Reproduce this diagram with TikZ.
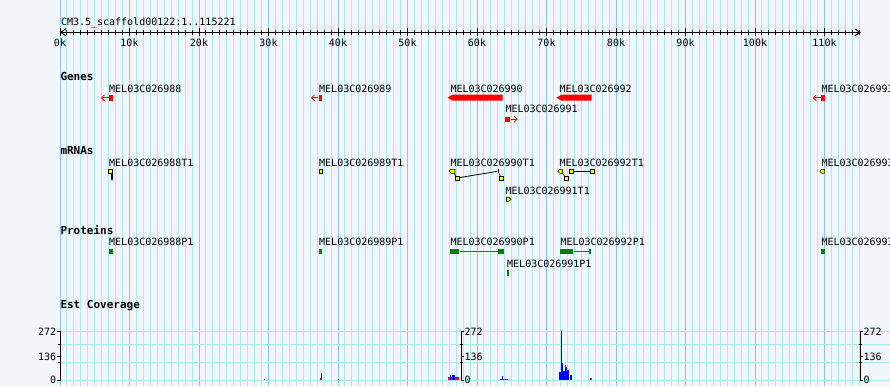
\documentclass[tikz,border=0pt]{standalone}
\usepackage{fontspec}
\setmonofont{DejaVu Sans Mono}
\usepackage[dvipsnames]{xcolor}
\usetikzlibrary{arrows.meta,shapes.symbols}
\definecolor{pagebg}{RGB}{242,245,250}
\definecolor{gridminor}{RGB}{172,234,240}
\definecolor{gridmajor}{RGB}{138,198,236}
\definecolor{genered}{RGB}{255,0,0}
\definecolor{exonyellow}{RGB}{255,255,0}
\definecolor{protgreen}{RGB}{0,128,0}
\definecolor{covblue}{RGB}{0,0,255}

\begin{document}
\begin{tikzpicture}[x=1pt,y=-1pt,line width=1pt,>={Straight Barb[length=3pt,width=6pt]},
    label node/.style={anchor=base west,inner sep=0pt,font=\ttfamily\fontsize{10}{12}\selectfont},
    track node/.style={anchor=base west,inner sep=0pt,font=\ttfamily\bfseries\fontsize{11}{13}\selectfont},
    axis num/.style={inner sep=0pt,font=\ttfamily\fontsize{10}{12}\selectfont},
    gene node/.style={rectangle,fill=genered,inner sep=0pt,minimum height=5.7pt},
    gene bar/.style={signal,signal to=west,signal pointer angle=62,fill=genered,inner sep=0pt,minimum height=6pt},
    gene arrow/.style={draw=genered,line width=0.8pt,->},
    exon node/.style={rectangle,fill=exonyellow,draw=black,line width=0.6pt,inner sep=0pt,minimum height=4pt},
    exon tip/.style={exon node,signal,signal to=west,signal pointer angle=90},
    intron/.style={draw=black,line width=0.8pt},
    cds node/.style={rectangle,fill=protgreen,inner sep=0pt,minimum height=5.3pt},
    cds link/.style={draw=protgreen,line width=0.8pt}]
    \fill[pagebg] (0,0) rectangle (890,386);
    \useasboundingbox (0,0) rectangle (890,386);
    \clip (0,0) rectangle (890,386);

    \foreach \pos in {0,...,115}
        \draw[gridminor] ({60+6.95*\pos},0) -- ({60+6.95*\pos},386);
    \foreach \pos in {0,10,...,110}
        \draw[gridmajor] ({60+6.95*\pos},0) -- ({60+6.95*\pos},386);
    \foreach \yy in {331.3,344,362,380}
        \draw[gridminor] (60,\yy) -- (890,\yy);

    % scale bar
    \node[label node] (title) at (60.5,25) {CM3.5\_scaffold00122:1..115221};
    \coordinate (rulerL) at (60,32.3);
    \coordinate (rulerR) at (860.8,32.3);
    \draw[{Straight Barb[length=5pt,width=7pt]}-{Straight Barb[length=5pt,width=7pt]}] (rulerL) -- (rulerR);
    \foreach \pos in {1,...,115}
        \draw ({60+6.95*\pos},29.8) -- ++(0,5);
    \foreach \pos in {0,10,...,110} {
        \draw ({60+6.95*\pos},28.3) -- ++(0,8);
        \node[axis num,anchor=base] (r\pos) at ({60+6.95*\pos},46.7) {\pos k};
    }

    % genes
    \node[track node] (genes) at (60,80) {Genes};
    \node[label node] (l1) at (108.7,92) {MEL03C026988};
    \node[label node] (l2) at (318.7,92) {MEL03C026989};
    \node[label node] (l3) at (450,92) {MEL03C026990};
    \node[label node] (l4) at (559,92) {MEL03C026992};
    \node[label node] (l5) at (505,112.7) {MEL03C026991};
    \node[label node] (l6) at (821,92) {MEL03C026993};
    \node[gene node,minimum width=3.7pt] (g1) at (110.9,97.8) {};
    \node[gene node,minimum width=3.3pt] (g2) at (320.4,97.8) {};
    \node[gene bar,minimum width=55pt] (g3) at (477.5,97.7) {};
    \node[gene bar,minimum width=35pt] (g4) at (576.5,97.7) {};
    \node[gene node,minimum width=5pt,minimum height=5pt] (g5) at (507.5,119.2) {};
    \node[gene node,minimum width=4pt] (g6) at (823,97.8) {};
    \coordinate (g1tip) at (101,97.8);
    \coordinate (g2tip) at (311,97.8);
    \coordinate (g5tip) at (517.7,119.2);
    \coordinate (g6tip) at (812.7,97.8);
    \path (g1) edge[gene arrow] (g1tip)
          (g2) edge[gene arrow] (g2tip)
          (g5) edge[gene arrow] (g5tip)
          (g6) edge[gene arrow] (g6tip);

    % mRNAs
    \node[track node] (mrnas) at (60,154) {mRNAs};
    \node[label node] (t1) at (108.7,166) {MEL03C026988T1};
    \node[label node] (t2) at (318.7,166) {MEL03C026989T1};
    \node[label node] (t3) at (450,166) {MEL03C026990T1};
    \node[label node] (t4) at (559,166) {MEL03C026992T1};
    \node[label node] (t5) at (505,194) {MEL03C026991T1};
    \node[label node] (t6) at (821,166) {MEL03C026993T1};
    \node[exon node,minimum width=3.3pt] (m1a) at (110.3,171.3) {};
    \node[rectangle,fill=black,inner sep=0pt,minimum width=1.7pt,minimum height=6pt] (m1b) at (111.8,177.2) {};
    \node[exon node,minimum width=2.7pt] (m2) at (320.7,171.3) {};
    \node[exon tip,minimum width=6pt] (m3a) at (453,171.3) {};
    \node[exon node,minimum width=4pt] (m3b) at (457,178) {};
    \node[rectangle,fill=black,inner sep=0pt,minimum width=1.3pt,minimum height=4pt] (m3c) at (498.2,171.2) {};
    \node[exon node,minimum width=4pt] (m3d) at (501.3,178) {};
    \node[exon tip,minimum width=4.5pt] (m4a) at (561,171.3) {};
    \node[exon node,minimum width=4pt] (m4b) at (566,178) {};
    \node[exon node,minimum width=3.3pt] (m4c) at (571.3,171.3) {};
    \node[exon node,minimum width=4pt] (m4d) at (592,171.3) {};
    \node[exon tip,signal to=east,minimum width=4.5pt] (m5) at (507.7,199.3) {};
    \node[exon tip,minimum width=4.5pt] (m6) at (823,171.3) {};
    \path[intron] (m3a) edge (m3b)
                  (m3b) edge (m3c)
                  (m3c) edge (m3d)
                  (m4a) edge (m4b)
                  (m4c) edge (m4d);

    % proteins
    \node[track node] (proteins) at (60,234) {Proteins};
    \node[label node] (q1) at (108.7,245.7) {MEL03C026988P1};
    \node[label node] (q2) at (318.7,245.7) {MEL03C026989P1};
    \node[label node] (q3) at (450,245.7) {MEL03C026990P1};
    \node[label node] (q4) at (560,245.7) {MEL03C026992P1};
    \node[label node] (q5) at (506.7,267) {MEL03C026991P1};
    \node[label node] (q6) at (821,245.7) {MEL03C026993P1};
    \node[cds node,minimum width=4pt] (p1) at (111,251.7) {};
    \node[cds node,minimum width=3pt] (p2) at (320.5,251.7) {};
    \node[cds node,minimum width=9pt] (p3a) at (454.5,251.7) {};
    \node[cds node,minimum width=6pt] (p3b) at (501,251.7) {};
    \node[cds node,minimum width=13pt] (p4a) at (566.5,251.7) {};
    \node[cds node,minimum width=2pt] (p4b) at (590,251.7) {};
    \node[cds node,minimum width=2pt,minimum height=6pt] (p5) at (508,273) {};
    \node[cds node,minimum width=4pt] (p6) at (823,251.7) {};
    \path[cds link] (p3a) edge (p3b)
                    (p4a) edge (p4b);

    % est coverage
    \node[track node] (cov) at (60,308.3) {Est Coverage};
    \foreach \xa/\xb/\yt in {264/265/378.5,320/322/378,338/339/378.7,448/452/377.3,454.7/458.7/377.3,
                             500/508/378.7,558.5/559.5/379,590/592/377.5}
        \fill[genered] (\xa,380) rectangle (\xb,\yt);
    \foreach \xa/\xb/\yt in {321/322/372.7,449.5/451/375,452/454.7/375.3,502/503/376,
                             559.3/561/372,561/562/331.3,562/563.3/362.7,563.3/564.7/371.3,
                             564.7/566/365.3,566/567.3/367.3,567.3/568.7/370,570/572/374.7}
        \fill[covblue] (\xa,380) rectangle (\xb,\yt);
    \draw (60,331.3) -- (60,380.5);
    \foreach \yy/\txt in {331.3/272,356.5/136,380/0} {
        \draw (57,\yy) -- (60,\yy);
        \node[axis num,anchor=east] (a\txt) at (56.7,\yy) {\txt};
    }
    \foreach \yy in {344,362.5}
        \draw (57.5,\yy) -- (61,\yy);
    \foreach \ax/\nm in {461/mid,860/right} {
        \draw (\ax,331.3) -- (\ax,380.5);
        \foreach \yy/\txt in {331.3/272,356.5/136,380/0} {
            \draw (\ax,\yy) -- ++(2.7,0);
            \node[axis num,anchor=west] (\nm\txt) at (\ax+3,\yy) {\txt};
        }
        \foreach \yy in {344,362.5}
            \draw (\ax-1.5,\yy) -- ++(3.5,0);
    }
\end{tikzpicture}
\end{document}
